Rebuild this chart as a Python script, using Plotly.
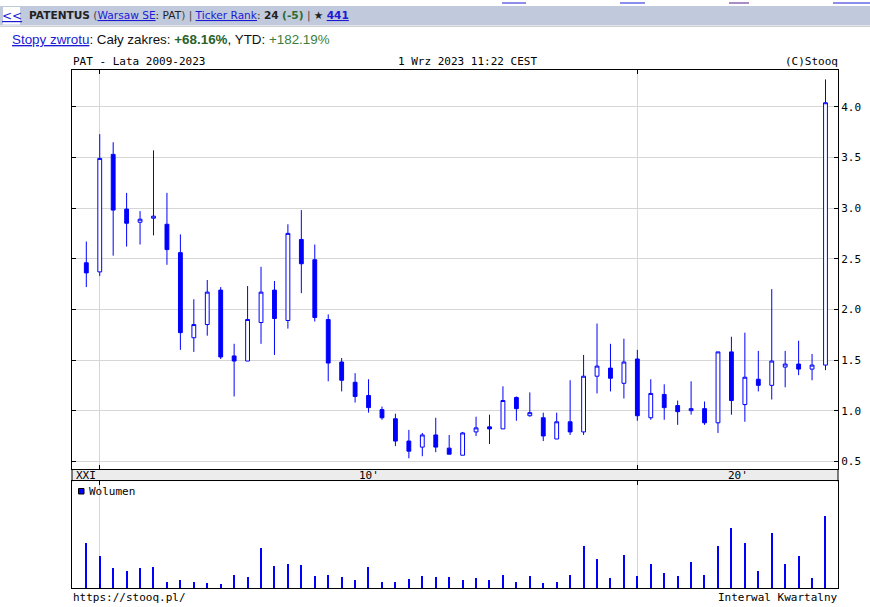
import plotly.graph_objects as go
import pandas as pd

W, H = 870, 607

# ---------------- data ----------------
quarters = [str(p) for p in pd.period_range("2009Q4", "2023Q3", freq="Q")]

open_ = [2.46, 2.37, 3.53, 2.99, 2.86, 2.90, 2.84, 2.56, 1.72, 1.85,
         2.19, 1.54, 1.49, 1.87, 2.19, 1.89, 2.69, 2.49, 1.90, 1.48,
         1.28, 1.15, 1.01, 0.92, 0.70, 0.64, 0.76, 0.63, 0.56, 0.79,
         0.84, 0.82, 1.13, 0.95, 0.93, 0.72, 0.89, 0.79, 1.34, 1.42,
         1.27, 1.51, 0.93, 1.16, 1.05, 1.00, 1.02, 0.88, 1.58, 1.06,
         1.31, 1.25, 1.43, 1.46, 1.41, 1.45]
high = [2.67, 3.73, 3.65, 3.15, 2.97, 3.57, 3.15, 2.74, 2.10, 2.29,
        2.22, 1.66, 2.23, 2.42, 2.28, 2.84, 2.98, 2.64, 1.95, 1.52,
        1.37, 1.31, 1.04, 0.97, 0.81, 0.78, 0.93, 0.76, 0.79, 0.94,
        0.96, 1.24, 1.14, 1.18, 0.98, 0.98, 1.30, 1.55, 1.86, 1.66,
        1.71, 1.60, 1.31, 1.26, 1.10, 1.29, 1.09, 1.58, 1.73, 1.77,
        1.59, 2.20, 1.59, 1.69, 1.56, 4.27]
low = [2.22, 2.33, 2.53, 2.62, 2.64, 2.73, 2.44, 1.60, 1.58, 1.74,
       1.51, 1.14, 1.49, 1.66, 1.55, 1.81, 2.16, 1.88, 1.29, 1.19,
       1.08, 0.98, 0.91, 0.65, 0.53, 0.55, 0.59, 0.57, 0.56, 0.75,
       0.67, 0.82, 0.90, 0.94, 0.70, 0.72, 0.76, 0.76, 1.17, 1.19,
       1.12, 0.90, 0.91, 0.91, 0.86, 0.96, 0.86, 0.78, 0.96, 0.89,
       1.19, 1.11, 1.23, 1.35, 1.30, 1.40]
close = [2.36, 3.49, 2.98, 2.85, 2.89, 2.92, 2.59, 1.77, 1.85, 2.17,
         1.53, 1.49, 1.90, 2.17, 1.91, 2.75, 2.45, 1.92, 1.47, 1.30,
         1.14, 1.03, 0.93, 0.70, 0.60, 0.76, 0.64, 0.57, 0.78, 0.83,
         0.82, 1.10, 1.02, 0.98, 0.75, 0.89, 0.79, 1.34, 1.44, 1.32,
         1.48, 0.95, 1.17, 1.03, 0.99, 1.02, 0.88, 1.58, 1.10, 1.33,
         1.25, 1.49, 1.46, 1.41, 1.45, 4.04]
volume = [45, 32, 20, 17, 20, 21, 6, 8, 6, 5,
          4, 13, 11, 40, 22, 24, 23, 12, 13, 11,
          8, 21, 6, 6, 9, 12, 11, 11, 8, 10,
          8, 13, 6, 12, 5, 6, 13, 42, 29, 10,
          33, 12, 24, 15, 12, 26, 13, 42, 60, 45,
          17, 55, 24, 32, 10, 72]

price_ticks = [0.5, 1.0, 1.5, 2.0, 2.5, 3.0, 3.5, 4.0]
price_tick_labels = ["0.5", "1.0", "1.5", "2.0", "2.5", "3.0", "3.5", "4.0"]
decade_starts = ["2010Q1", "2020Q1"]
decade_labels = ["XXI", "10'", "20'"]

# ---------------- geometry helpers ----------------
def px(x):
    return x / W

def py(y):
    return 1 - y / H

idx = list(range(len(quarters)))
grid_idx = [quarters.index(q) for q in decade_starts]
X_RANGE = [-1.064, 55.93]

PLOT_L, PLOT_R = 72, 838
PRICE_T, PRICE_B = 70, 469.3
VOL_T, VOL_B = 481.3, 588.0

BLUE = "#0000ff"
GRID = "#d6d6d6"
MONO = "DejaVu Sans Mono"

fig = go.Figure()

fig.add_trace(go.Candlestick(
    x=idx, open=open_, high=high, low=low, close=close,
    xaxis="x", yaxis="y",
    increasing=dict(line=dict(color=BLUE, width=1), fillcolor="white"),
    decreasing=dict(line=dict(color=BLUE, width=1), fillcolor=BLUE),
    whiskerwidth=0, showlegend=False, hoverinfo="skip",
))

fig.add_trace(go.Bar(
    x=idx, y=volume, xaxis="x2", yaxis="y2", width=0.085,
    marker=dict(color=BLUE, line=dict(width=0)),
    showlegend=False, hoverinfo="skip",
))

axis_common = dict(showline=True, linecolor="black", linewidth=1,
                   zeroline=False, fixedrange=True)

fig.update_layout(
    width=W, height=H,
    margin=dict(l=0, r=0, t=0, b=0),
    paper_bgcolor="white", plot_bgcolor="white",
    boxgap=0.62, boxgroupgap=0.25,
    bargap=0,
    hovermode=False,
    xaxis=dict(domain=[px(PLOT_L), px(PLOT_R)], range=X_RANGE, anchor="y",
               tickvals=grid_idx, showticklabels=False, ticks="inside",
               ticklen=4, tickcolor="black", showgrid=True, gridcolor=GRID,
               mirror="ticks", rangeslider=dict(visible=False), **axis_common),
    yaxis=dict(domain=[py(PRICE_B), py(PRICE_T)], range=[0.421, 4.363],
               anchor="x", side="right", tickvals=price_ticks,
               ticktext=price_tick_labels, ticks="inside", ticklen=4,
               tickcolor="black", showgrid=True, gridcolor=GRID,
               mirror="ticks",
               tickfont=dict(family=MONO, size=11, color="black"),
               **axis_common),
    xaxis2=dict(domain=[px(PLOT_L), px(PLOT_R)], range=X_RANGE, anchor="y2",
                tickvals=grid_idx, showticklabels=False, ticks="inside",
                ticklen=4, tickcolor="black", showgrid=True, gridcolor=GRID,
                mirror="ticks", **axis_common),
    yaxis2=dict(domain=[py(VOL_B), py(VOL_T)], range=[0, VOL_B - VOL_T],
                anchor="x2", showticklabels=False, ticks="", showgrid=False,
                mirror=True, **axis_common),
)

shapes = []
# header bar
shapes.append(dict(type="rect", xref="paper", yref="paper", x0=0, x1=1,
                   y0=py(25.5), y1=py(6), fillcolor="#c1c9dc",
                   line=dict(width=0), layer="below"))
shapes.append(dict(type="line", xref="paper", yref="paper", x0=0, x1=1,
                   y0=py(26.5), y1=py(26.5), line=dict(color="#d0d0d0", width=1),
                   layer="below"))
shapes.append(dict(type="rect", xref="paper", yref="paper", x0=px(3), x1=px(20),
                   y0=py(24.5), y1=py(7), fillcolor="white",
                   line=dict(width=0), layer="below"))
# cut-off links on the very top row
for (a, b, c) in [(502, 526, "#1a1ad6"), (620, 645, "#1a1ad6"),
                  (729, 749, "#551a8b"), (833, 870, "#1a1ad6")]:
    shapes.append(dict(type="line", xref="paper", yref="paper", x0=px(a), x1=px(b),
                       y0=py(3), y1=py(3), line=dict(color=c, width=1)))
# grey band between price and volume panels
shapes.append(dict(type="rect", xref="paper", yref="paper", x0=px(PLOT_L),
                   x1=px(PLOT_R), y0=py(VOL_T), y1=py(PRICE_B),
                   fillcolor="#ececec", line=dict(width=0), layer="below"))
shapes.append(dict(type="line", xref="paper", yref="paper", x0=px(PLOT_L),
                   x1=px(PLOT_L), y0=py(VOL_T), y1=py(PRICE_B),
                   line=dict(color="black", width=1)))
shapes.append(dict(type="line", xref="paper", yref="paper", x0=px(PLOT_R),
                   x1=px(PLOT_R), y0=py(VOL_T), y1=py(PRICE_B),
                   line=dict(color="black", width=1)))
# legend swatch
shapes.append(dict(type="rect", xref="paper", yref="paper", x0=px(78.5), x1=px(84),
                   y0=py(494), y1=py(488.5), fillcolor=BLUE,
                   line=dict(color="black", width=1)))
fig.update_layout(shapes=shapes)

ann = []

def text(x, y, s, anchor="left", size=11, family=MONO, color="black"):
    ann.append(dict(x=px(x), y=py(y), xref="paper", yref="paper", text=s,
                    showarrow=False, xanchor=anchor, yanchor="middle",
                    font=dict(family=family, size=size, color=color)))

LINK = "color:#1a1ad6;text-decoration:underline"
text(11.5, 16, f"<span style='{LINK}'>&lt;&lt;</span>", anchor="center",
     size=12, family="DejaVu Sans")
text(27, 16,
     "<b>PATENTUS</b> <span style='color:#444'>(</span>"
     f"<span style='{LINK}'>Warsaw SE</span>: PAT<span style='color:#444'>) |</span> "
     f"<span style='{LINK}'>Ticker Rank</span>: <b>24</b> "
     "<b><span style='color:#2e6b2e'>(-5)</span></b> <span style='color:#444'>|</span> ★ "
     f"<b><span style='{LINK}'>441</span></b>",
     size=10.6, family="DejaVu Sans", color="#222")
text(10, 40,
     f"<span style='{LINK}'>Stopy zwrotu</span>: Cały zakres: "
     "<span style='color:#2a622a'><b>+68.16%</b></span>, YTD: "
     "<span style='color:#3b7e3b'>+182.19%</span>",
     size=13.4, family="Liberation Sans", color="#111")
text(71, 61, "PAT - Lata 2009-2023")
text(467, 61, "1 Wrz 2023 11:22 CEST", anchor="center")
text(839.5, 61, "(C)Stooq", anchor="right")
text(71, 597.5, "https://stooq.pl/")
text(839.5, 597.5, "Interwal Kwartalny", anchor="right")
text(87, 491.5, "Wolumen")

# decade labels centred in the visible span of each decade
bounds = [X_RANGE[0]] + grid_idx + [X_RANGE[1]]
for i, lab in enumerate(decade_labels):
    cx = (bounds[i] + bounds[i + 1]) / 2
    ann.append(dict(x=cx, y=py(475.5), xref="x", yref="paper", text=lab,
                    showarrow=False, xanchor="center", yanchor="middle",
                    font=dict(family=MONO, size=11, color="black")))

fig.update_layout(annotations=ann)

fig.write_html("out.html", config={"displayModeBar": False})
